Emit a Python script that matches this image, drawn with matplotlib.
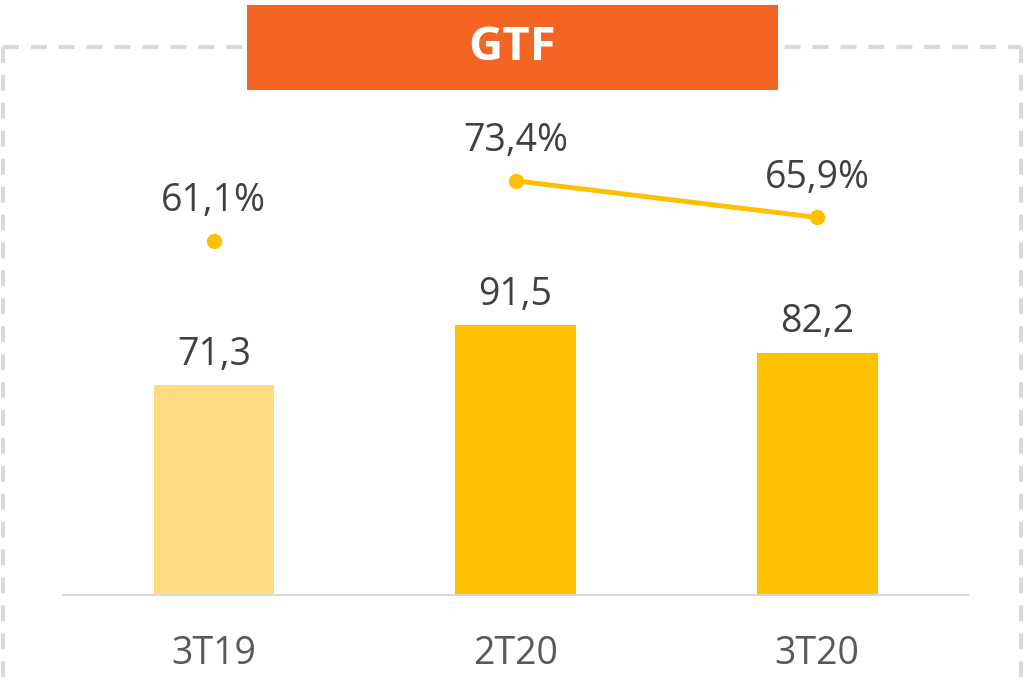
import matplotlib
matplotlib.use("Agg")
import matplotlib.pyplot as plt
from matplotlib.patches import Rectangle
from matplotlib.lines import Line2D

plt.rcParams['font.family'] = ['Open Sans', 'DejaVu Sans']
plt.rcParams['lines.scale_dashes'] = False

periodos = ["3T19", "2T20", "3T20"]
receita = [71.3, 91.5, 82.2]
margem = [61.1, 73.4, 65.9]
rotulos_receita = ["71,3", "91,5", "82,2"]
rotulos_margem = ["61,1%", "73,4%", "65,9%"]
titulo = "GTF"

cores_barras = ["#FFDC80", "#FFC000", "#FFC000"]
amarelo = "#FFC000"
laranja = "#F46524"

W, H = 1025, 687
fig = plt.figure(figsize=(W / 100, H / 100), dpi=100)

def fx(px):
    return px / W

def fy(py):
    return 1 - py / H

# moldura tracejada
borda = dict(color="#D9D9D9", lw=2.9, dashes=(11.5, 8.6), transform=fig.transFigure, zorder=1)
fig.add_artist(Line2D([fx(3), fx(1021)], [fy(47), fy(47)], **borda))
fig.add_artist(Line2D([fx(3), fx(3)], [fy(47), fy(700)], **borda))
fig.add_artist(Line2D([fx(1021), fx(1021)], [fy(47), fy(700)], **borda))

# caixa do titulo
fig.add_artist(Rectangle((fx(247), fy(90)), fx(778) - fx(247), fy(5) - fy(90),
                         transform=fig.transFigure, facecolor=laranja, edgecolor="none",
                         zorder=5))
fig.text(fx(512), fy(48), titulo, color="white", fontsize=34, fontweight="bold",
         ha="center", va="center", zorder=6)

ax = fig.add_axes([fx(63), fy(595), fx(968) - fx(63), fy(100) - fy(595)])
x = list(range(len(periodos)))
ax.bar(x, receita, width=0.4, color=cores_barras)
ax.set_xlim(-0.5, 2.5)
ax.set_ylim(0, 495 / 2.95)
for xi, v, r in zip(x, receita, rotulos_receita):
    ax.annotate(r, (xi, v), xytext=(0, 8), textcoords="offset points",
                ha="center", va="bottom", fontsize=27, color="#404040")

for s in ["top", "right", "left"]:
    ax.spines[s].set_visible(False)
ax.spines["bottom"].set_color("#D9D9D9")
ax.spines["bottom"].set_linewidth(1.5)
ax.set_yticks([])
ax.set_xticks(x)
ax.set_xticklabels(periodos, fontsize=27, color="#595959")
ax.tick_params(axis="x", length=0, pad=29)
ax.set_facecolor("none")

ax2 = ax.twinx()
ax2.set_ylim(-(595 - 539) / 4.88, (539 - 100) / 4.88)
ax2.plot(x[1:], margem[1:], color=amarelo, lw=3.5)
ax2.plot(x, margem, "o", color=amarelo, ms=10, lw=0)
for xi, v, r in zip(x, margem, rotulos_margem):
    ax2.annotate(r, (xi, v), xytext=(0, 15), textcoords="offset points",
                 ha="center", va="bottom", fontsize=27, color="#404040")
ax2.axis("off")

fig.savefig("out.png", dpi=100)
